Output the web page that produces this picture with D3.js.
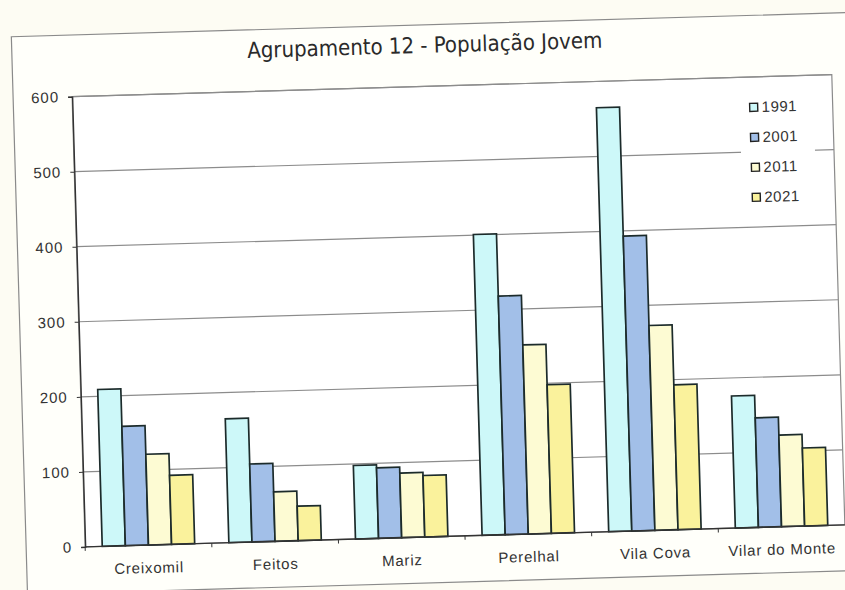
<!DOCTYPE html>
<html>
<head>
<meta charset="utf-8">
<script src="https://cdn.jsdelivr.net/npm/d3@7"></script>
<style>
  body { margin: 0; background: #fdfcf3; }
  svg { display: block; }
</style>
</head>
<body>
<div id="chart"></div>
<script>
// dados
const categories = ["Creixomil", "Feitos", "Mariz", "Perelhal", "Vila Cova", "Vilar do Monte"];
const years = ["1991", "2001", "2011", "2021"];
const v1991 = [209, 165, 98, 401, 565, 176];
const v2001 = [159, 104, 94, 318, 393, 146];
const v2011 = [121, 66, 86, 252, 273, 122];
const v2021 = [92, 46, 82, 198, 193, 104];
const yTicks = [0, 100, 200, 300, 400, 500, 600];
const colors = ["#cdf8f9", "#a2bfe8", "#fdfbd3", "#faf29c"];

const series = [v1991, v2001, v2011, v2021];
const data = categories.map((c, i) => ({
  cat: c,
  vals: years.map((y, j) => ({ year: y, value: series[j][i] })),
}));

const width = 845, height = 590;
const margin = { left: 78, right: 7, top: 86.6, bottom: 53 };
const innerWidth = width - margin.left - margin.right;
const innerHeight = height - margin.top - margin.bottom;
const font = "'Liberation Sans', Arial, sans-serif";

const svg = d3.select("#chart").append("svg")
  .attr("width", width)
  .attr("height", height);

// the scan is slightly tilted
const root = svg.append("g").attr("transform", "rotate(-1.66,422,295)");

// outer chart box
root.append("rect")
  .attr("x", 19).attr("y", 25)
  .attr("width", 850).attr("height", 558)
  .attr("fill", "#fffffa")
  .attr("stroke", "#8a8a8a")
  .attr("stroke-width", 1.2);

root.append("text")
  .attr("x", 432).attr("y", 53)
  .attr("text-anchor", "middle")
  .style("font-family", "'DejaVu Sans Condensed', 'DejaVu Sans', sans-serif")
  .style("font-size", "22px")
  .attr("fill", "#2a2a2a")
  .text("Agrupamento 12 - População Jovem");

const g = root.append("g")
  .attr("transform", `translate(${margin.left},${margin.top})`);

const x0 = d3.scaleBand()
  .domain(categories)
  .range([0, innerWidth])
  .paddingInner(0.27)
  .paddingOuter(0.135);
const x1 = d3.scaleBand()
  .domain(years)
  .range([0, x0.bandwidth()]);
const yScale = d3.scaleLinear().domain([0, 600]).range([innerHeight, 0]);
const color = d3.scaleOrdinal().domain(years).range(colors);

// plot area
g.append("rect")
  .attr("width", innerWidth).attr("height", innerHeight)
  .attr("fill", "#ffffff")
  .attr("stroke", "#8a8a8a")
  .attr("stroke-width", 1.2);

// gridlines
g.append("g")
  .selectAll("line")
  .data(yTicks.slice(1))
  .join("line")
  .attr("x1", 0).attr("x2", innerWidth)
  .attr("y1", d => yScale(d)).attr("y2", d => yScale(d))
  .attr("stroke", "#8c8c8c")
  .attr("stroke-width", 1.2);

// bars
g.append("g")
  .selectAll("g")
  .data(data)
  .join("g")
  .attr("transform", d => `translate(${x0(d.cat)},0)`)
  .selectAll("rect")
  .data(d => d.vals)
  .join("rect")
  .attr("x", d => x1(d.year))
  .attr("y", d => yScale(d.value))
  .attr("width", x1.bandwidth())
  .attr("height", d => innerHeight - yScale(d.value))
  .attr("fill", d => color(d.year))
  .attr("stroke", "#1c2b2b")
  .attr("stroke-width", 1.7);

// y axis
const yAxis = g.append("g")
  .call(d3.axisLeft(yScale).tickValues(yTicks).tickSize(4).tickPadding(9));
yAxis.select(".domain").attr("stroke", "#333").attr("stroke-width", 1.4);
yAxis.selectAll(".tick line").attr("stroke", "#333");
yAxis.selectAll("text")
  .style("font-family", font)
  .style("font-size", "15px")
  .style("letter-spacing", "1px")
  .attr("fill", "#333");

// x axis: ticks between categories
const xAxis = g.append("g")
  .attr("transform", `translate(0,${innerHeight})`);
xAxis.append("line")
  .attr("x1", 0).attr("x2", innerWidth)
  .attr("stroke", "#333").attr("stroke-width", 1.4);
xAxis.selectAll(".sep")
  .data(categories)
  .join("line")
  .attr("class", "sep")
  .attr("x1", d => x0(d) - x0.step() * 0.135)
  .attr("x2", d => x0(d) - x0.step() * 0.135)
  .attr("y1", 0).attr("y2", 4)
  .attr("stroke", "#333");
xAxis.selectAll(".lab")
  .data(categories)
  .join("text")
  .attr("class", "lab")
  .attr("x", d => x0(d) + x0.bandwidth() / 2)
  .attr("y", 28)
  .attr("text-anchor", "middle")
  .style("font-family", font)
  .style("font-size", "15px")
  .style("letter-spacing", "0.8px")
  .attr("fill", "#333")
  .text(d => d);

// legend
const legend = g.append("g")
  .attr("transform", `translate(${755 - margin.left},${117 - margin.top})`);
legend.append("rect")
  .attr("x", -10).attr("y", -20)
  .attr("width", 74).attr("height", 118)
  .attr("fill", "#ffffff");
legend.selectAll("rect.sw")
  .data(years)
  .join("rect")
  .attr("class", "sw")
  .attr("x", 0)
  .attr("y", (d, i) => i * 30 - 4)
  .attr("width", 8).attr("height", 8)
  .attr("fill", d => color(d))
  .attr("stroke", "#222")
  .attr("stroke-width", 1.4);
legend.selectAll("text")
  .data(years)
  .join("text")
  .attr("x", 12)
  .attr("y", (d, i) => i * 30 + 5)
  .style("font-family", font)
  .style("font-size", "15px")
  .style("letter-spacing", "0.5px")
  .attr("fill", "#333")
  .text(d => d);
</script>
</body>
</html>
